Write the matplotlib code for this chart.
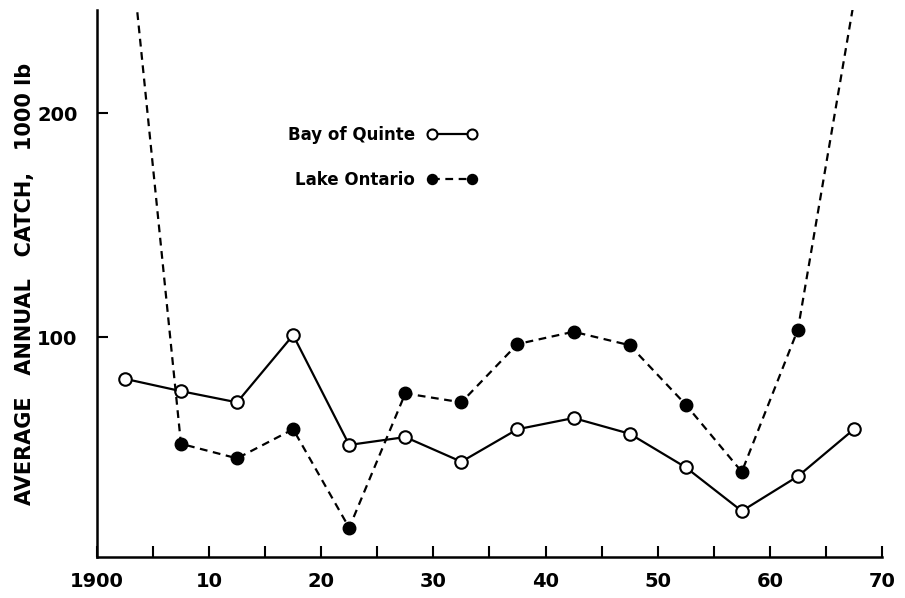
import matplotlib.pyplot as plt

# mid-points of the 5-year periods
years = [1902.5, 1907.5, 1912.5, 1917.5, 1922.5, 1927.5, 1932.5,
         1937.5, 1942.5, 1947.5, 1952.5, 1957.5, 1962.5, 1967.5]
quinte = [81.5, 76, 71, 101, 52, 55.5, 44.5, 59, 64, 57, 42, 22.5, 38, 59]
ontario = [300, 52.5, 46, 59, 15, 75, 71, 97, 102.5, 96.5, 70, 40, 103.5, 250]

xticks = list(range(1900, 1971, 5))
xlabels = ['1900', '10', '20', '30', '40', '50', '60', '70']
yticks = [100, 200]

fig = plt.figure(figsize=(9.05, 5.98), dpi=100)
ax = fig.add_axes([0.107, 0.0686, 0.8676, 0.9144])

ax.plot(years, quinte, color='black', lw=1.6, marker='o', ms=9,
        mfc='white', mec='black', mew=1.5, label='Bay of Quinte')
ax.plot(years, ontario, color='black', lw=1.6, dashes=(3.5, 2.5), marker='o', ms=9,
        mfc='black', mec='black', label='Lake Ontario')

ax.set_xlim(1900, 1970)
ax.set_ylim(2, 246)
ax.spines['top'].set_visible(False)
ax.spines['right'].set_visible(False)
for s in ['left', 'bottom']:
    ax.spines[s].set_linewidth(1.8)

ax.set_xticks(xticks)
ax.set_xticklabels([xlabels[i // 2] if i % 2 == 0 else '' for i in range(len(xticks))])
ax.set_yticks(yticks)
ax.tick_params(direction='in', length=8, width=1.5, labelsize=14)
ax.tick_params(axis='x', pad=11)
ax.tick_params(axis='y', pad=14)
for lbl in ax.get_xticklabels() + ax.get_yticklabels():
    lbl.set_fontweight('bold')

ax.set_ylabel('AVERAGE   ANNUAL   CATCH,   1000 lb', fontsize=15, fontweight='bold')
ax.yaxis.set_label_coords(-0.079, 0.50)

ax.legend(loc='upper left', bbox_to_anchor=(0.318, 0.79), bbox_transform=fig.transFigure,
          frameon=False, markerfirst=False, numpoints=2, handlelength=3.0,
          handletextpad=0.7, labelspacing=1.65, borderpad=0, borderaxespad=0,
          prop={'size': 12, 'weight': 'bold'}, markerscale=0.8)

fig.savefig('out.png', dpi=100)
